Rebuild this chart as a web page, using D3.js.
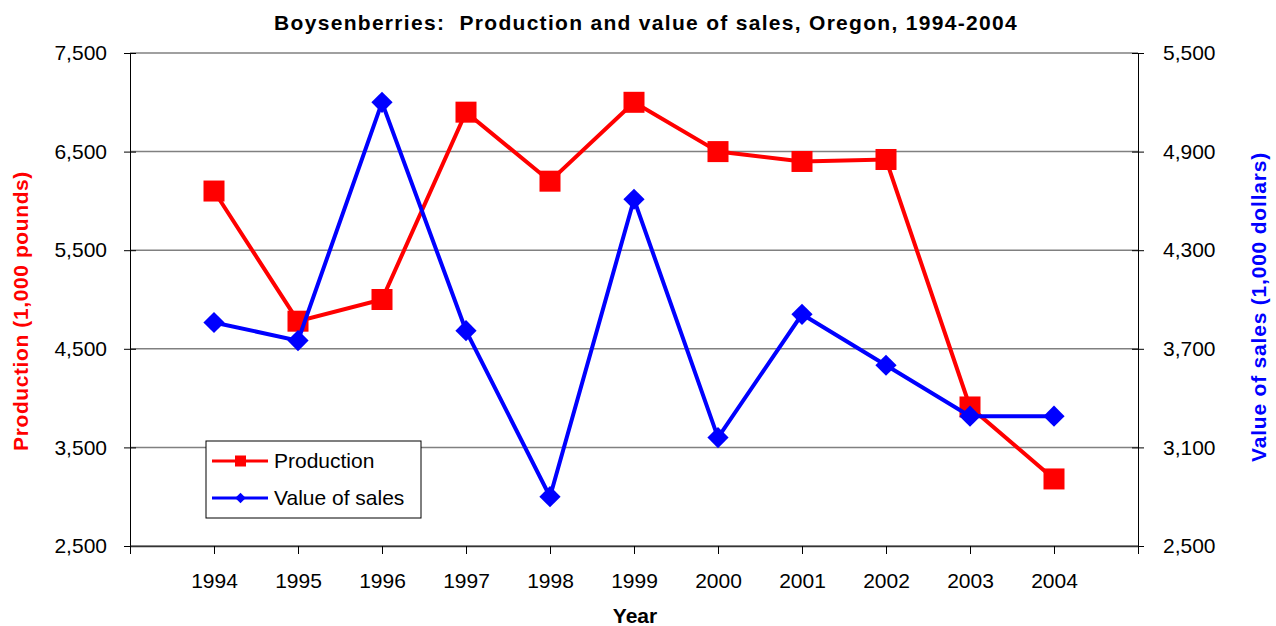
<!DOCTYPE html>
<html>
<head>
<meta charset="utf-8">
<script src="https://cdn.jsdelivr.net/npm/d3@7"></script>
<style>
  body { margin: 0; background: #fff; }
  svg { font-family: "Liberation Sans", Arial, sans-serif; }
  .grid line { stroke: #808080; stroke-width: 1.5; }
  .axis path, .axis line { stroke: #000; }
  .axis text { font-size: 21px; fill: #000; }
</style>
</head>
<body>
<svg width="1276" height="626"></svg>
<script>
// data
var years = ["1994", "1995", "1996", "1997", "1998", "1999", "2000", "2001", "2002", "2003", "2004"];
var production = [6100, 4780, 5000, 6900, 6200, 7000, 6500, 6400, 6420, 3910, 3180];
var sales = [3860, 3750, 5200, 3810, 2800, 4610, 3160, 3910, 3600, 3290, 3290];
var leftTicks = [2500, 3500, 4500, 5500, 6500, 7500];
var rightTicks = [2500, 3100, 3700, 4300, 4900, 5500];

var svg = d3.select("svg");
var fmt = d3.format(",");

// plot area (window.top is taken, so keep these in an object)
var plot = {left: 130, right: 1138, top: 53, bottom: 546};

// category axis: years sit on 1..11 of a 0..12 axis
var x = d3.scaleLinear().domain([0, years.length + 1]).range([plot.left, plot.right]);
var yL = d3.scaleLinear().domain([2500, 7500]).range([plot.bottom, plot.top]);
var yR = d3.scaleLinear().domain([2500, 5500]).range([plot.bottom, plot.top]);

// horizontal gridlines
svg.append("g")
   .attr("class", "grid")
   .selectAll("line")
   .data(leftTicks)
   .enter()
   .append("line")
   .attr("x1", plot.left)
   .attr("x2", plot.right)
   .attr("y1", function(d) { return yL(d); })
   .attr("y2", function(d) { return yL(d); });

// left axis, ticks cross the line
var axL = svg.append("g")
   .attr("class", "axis")
   .attr("transform", "translate(" + plot.left + ",0)")
   .call(d3.axisLeft(yL).tickValues(leftTicks).tickFormat(fmt).tickSize(6).tickSizeOuter(0).tickPadding(17));
axL.selectAll(".tick line").attr("x2", 6).attr("x1", -6);

// right axis
var axR = svg.append("g")
   .attr("class", "axis")
   .attr("transform", "translate(" + plot.right + ",0)")
   .call(d3.axisRight(yR).tickValues(rightTicks).tickFormat(fmt).tickSize(6).tickSizeOuter(0).tickPadding(19));
axR.selectAll(".tick line").attr("x1", -6).attr("x2", 6);

// bottom axis
var axB = svg.append("g")
   .attr("class", "axis")
   .attr("transform", "translate(0," + plot.bottom + ")")
   .call(d3.axisBottom(x).tickValues(d3.range(0, years.length + 2))
     .tickFormat(function(d) { return years[d - 1] || ""; })
     .tickSize(8).tickSizeOuter(0).tickPadding(19));
axB.select(".domain").style("stroke", "#333").style("stroke-width", 1.5);

// lines
var lineProd = d3.line()
   .x(function(d, i) { return x(i + 1); })
   .y(function(d) { return yL(d); });
var lineSales = d3.line()
   .x(function(d, i) { return x(i + 1); })
   .y(function(d) { return yR(d); });

svg.append("path")
   .datum(production)
   .attr("d", lineProd)
   .style("fill", "none")
   .style("stroke", "#ff0000")
   .style("stroke-width", 4);

svg.append("g")
   .selectAll("rect")
   .data(production)
   .enter()
   .append("rect")
   .attr("x", function(d, i) { return x(i + 1) - 10.5; })
   .attr("y", function(d) { return yL(d) - 10.5; })
   .attr("width", 21)
   .attr("height", 21)
   .style("fill", "#ff0000");

svg.append("path")
   .datum(sales)
   .attr("d", lineSales)
   .style("fill", "none")
   .style("stroke", "#0000ff")
   .style("stroke-width", 4);

var diamond = d3.symbol().type(d3.symbolSquare).size(225);
svg.append("g")
   .selectAll("path")
   .data(sales)
   .enter()
   .append("path")
   .attr("d", diamond)
   .attr("transform", function(d, i) { return "translate(" + x(i + 1) + "," + yR(d) + ") rotate(45)"; })
   .style("fill", "#0000ff");

// legend
var legend = svg.append("g").attr("transform", "translate(206,441)");
legend.append("rect")
   .attr("width", 215)
   .attr("height", 77)
   .style("fill", "#fff")
   .style("stroke", "#000");

var items = [
  {name: "Production", color: "#ff0000", y: 20},
  {name: "Value of sales", color: "#0000ff", y: 57}
];
items.forEach(function(d, i) {
  legend.append("line")
     .attr("x1", 6).attr("x2", 62)
     .attr("y1", d.y).attr("y2", d.y)
     .style("stroke", d.color)
     .style("stroke-width", 3);
  if (i === 0) {
    legend.append("rect")
       .attr("x", 29).attr("y", d.y - 5.5)
       .attr("width", 11).attr("height", 11)
       .style("fill", d.color);
  } else {
    legend.append("path")
       .attr("d", d3.symbol().type(d3.symbolSquare).size(56))
       .attr("transform", "translate(34.5," + d.y + ") rotate(45)")
       .style("fill", d.color);
  }
  legend.append("text")
     .attr("x", 68)
     .attr("y", d.y)
     .attr("dy", "0.35em")
     .style("font-size", "21px")
     .text(d.name);
});

// titles
svg.append("text")
   .attr("x", 646)
   .attr("y", 30)
   .attr("text-anchor", "middle")
   .attr("xml:space", "preserve")
   .style("font-size", "21px")
   .style("font-weight", "bold")
   .style("letter-spacing", "1.3px")
   .text("Boysenberries:  Production and value of sales, Oregon, 1994-2004");

svg.append("text")
   .attr("x", 635)
   .attr("y", 623)
   .attr("text-anchor", "middle")
   .style("font-size", "21px")
   .style("font-weight", "bold")
   .text("Year");

svg.append("text")
   .attr("transform", "translate(21,311) rotate(-90)")
   .attr("dy", "0.35em")
   .attr("text-anchor", "middle")
   .style("font-size", "21px")
   .style("font-weight", "bold")
   .style("letter-spacing", "0.6px")
   .style("fill", "#ff0000")
   .text("Production (1,000 pounds)");

svg.append("text")
   .attr("transform", "translate(1259,307) rotate(-90)")
   .attr("dy", "0.35em")
   .attr("text-anchor", "middle")
   .style("font-size", "21px")
   .style("font-weight", "bold")
   .style("letter-spacing", "0.8px")
   .style("fill", "#0000ff")
   .text("Value of sales (1,000 dollars)");
</script>
</body>
</html>
